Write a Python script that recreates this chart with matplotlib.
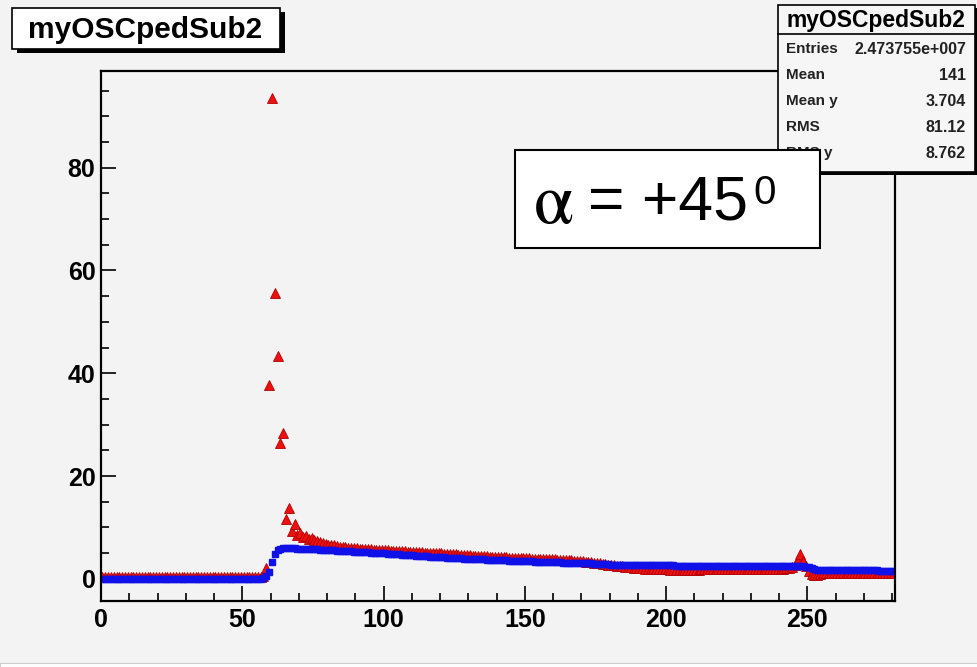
import numpy as np
import matplotlib.pyplot as plt
from matplotlib.patches import Rectangle
from matplotlib.ticker import MultipleLocator

plt.rcParams['font.family'] = ['Liberation Sans', 'DejaVu Sans']
plt.rcParams['mathtext.fontset'] = 'stix'

W, H = 978, 667
BG = '#f3f3f3'

# bin centres of the 281 channel histogram
channels = np.arange(281) + 0.5

# red triangles (one value per channel)
red_vals = [
    0.3, 0.3, 0.3, 0.3, 0.3, 0.3, 0.3, 0.3, 0.3, 0.3,
    0.3, 0.3, 0.3, 0.3, 0.3, 0.3, 0.3, 0.3, 0.3, 0.3,
    0.3, 0.3, 0.3, 0.3, 0.3, 0.3, 0.3, 0.3, 0.3, 0.3,
    0.3, 0.3, 0.3, 0.3, 0.3, 0.3, 0.3, 0.3, 0.3, 0.3,
    0.3, 0.3, 0.3, 0.3, 0.3, 0.3, 0.3, 0.3, 0.3, 0.3,
    0.3, 0.3, 0.3, 0.3, 0.3, 0.3, 0.3, 0.6, 2.1, 37.7,
    93.6, 55.6, 43.4, 26.5, 28.4, 11.7, 13.8, 9.4, 10.7, 8.6,
    8.9, 8.2, 8.4, 7.8, 7.9, 7.5, 7.3, 7.1, 6.9, 6.8,
    6.6, 6.6, 6.5, 6.4, 6.3, 6.3, 6.2, 6.1, 6.1, 6.0,
    6.0, 5.9, 5.9, 5.8, 5.8, 5.8, 5.7, 5.7, 5.7, 5.6,
    5.6, 5.6, 5.5, 5.5, 5.5, 5.4, 5.4, 5.4, 5.3, 5.3,
    5.3, 5.2, 5.2, 5.2, 5.1, 5.1, 5.1, 5.0, 5.0, 5.0,
    5.0, 4.9, 4.9, 4.8, 4.8, 4.8, 4.7, 4.7, 4.6, 4.6,
    4.6, 4.5, 4.5, 4.5, 4.4, 4.4, 4.4, 4.3, 4.3, 4.3,
    4.3, 4.2, 4.2, 4.2, 4.1, 4.1, 4.1, 4.0, 4.0, 4.0,
    4.0, 4.0, 3.9, 3.9, 3.9, 3.9, 3.8, 3.8, 3.8, 3.8,
    3.8, 3.7, 3.7, 3.7, 3.6, 3.6, 3.6, 3.5, 3.5, 3.4,
    3.4, 3.3, 3.3, 3.2, 3.1, 3.1, 3.0, 2.9, 2.9, 2.8,
    2.8, 2.7, 2.6, 2.6, 2.5, 2.4, 2.4, 2.3, 2.2, 2.2,
    2.1, 2.1, 2.0, 2.0, 2.0, 1.9, 1.9, 1.9, 1.9, 1.9,
    1.9, 1.8, 1.8, 1.8, 1.8, 1.7, 1.7, 1.7, 1.8, 1.8,
    1.8, 1.8, 1.9, 1.9, 1.9, 1.9, 1.9, 1.9, 1.9, 1.9,
    1.9, 1.9, 1.9, 2.0, 2.0, 2.0, 2.0, 2.0, 2.0, 2.0,
    2.0, 2.0, 2.0, 2.0, 2.0, 2.0, 2.0, 2.0, 2.0, 2.0,
    2.0, 2.0, 2.1, 2.2, 2.4, 2.8, 3.6, 4.9, 3.4, 2.5,
    1.6, 1.0, 0.8, 0.8, 1.0, 1.1, 1.2, 1.2, 1.2, 1.2,
    1.2, 1.2, 1.2, 1.2, 1.2, 1.2, 1.2, 1.2, 1.2, 1.2,
    1.2, 1.2, 1.2, 1.2, 1.2, 1.2, 1.2, 1.2, 1.2, 1.2, 1.2,
]

# blue squares (one value per channel)
blue_vals = [
    0.0, 0.0, 0.0, 0.0, 0.0, 0.0, 0.0, 0.0, 0.0, 0.0,
    0.0, 0.0, 0.0, 0.0, 0.0, 0.0, 0.0, 0.0, 0.0, 0.0,
    0.0, 0.0, 0.0, 0.0, 0.0, 0.0, 0.0, 0.0, 0.0, 0.0,
    0.0, 0.0, 0.0, 0.0, 0.0, 0.0, 0.0, 0.0, 0.0, 0.0,
    0.0, 0.0, 0.0, 0.0, 0.0, 0.0, 0.0, 0.0, 0.0, 0.0,
    0.0, 0.0, 0.0, 0.0, 0.0, 0.0, 0.0, 0.2, 0.5, 1.4,
    3.3, 4.8, 5.6, 5.9, 6.0, 6.0, 6.0, 6.0, 6.0, 5.9,
    5.9, 5.9, 5.9, 5.9, 5.8, 5.8, 5.8, 5.7, 5.7, 5.7,
    5.6, 5.6, 5.6, 5.5, 5.5, 5.5, 5.4, 5.4, 5.4, 5.3,
    5.3, 5.3, 5.2, 5.2, 5.2, 5.1, 5.1, 5.1, 5.0, 5.0,
    5.0, 4.9, 4.9, 4.9, 4.8, 4.8, 4.7, 4.7, 4.7, 4.6,
    4.6, 4.5, 4.5, 4.5, 4.4, 4.4, 4.3, 4.3, 4.3, 4.2,
    4.2, 4.2, 4.1, 4.1, 4.1, 4.0, 4.0, 4.0, 3.9, 3.9,
    3.9, 3.9, 3.8, 3.8, 3.8, 3.8, 3.7, 3.7, 3.7, 3.7,
    3.6, 3.6, 3.6, 3.6, 3.5, 3.5, 3.5, 3.5, 3.4, 3.4,
    3.4, 3.4, 3.4, 3.3, 3.3, 3.3, 3.3, 3.3, 3.2, 3.2,
    3.2, 3.2, 3.2, 3.1, 3.1, 3.1, 3.1, 3.1, 3.0, 3.0,
    3.0, 3.0, 3.0, 3.0, 2.9, 2.9, 2.9, 2.9, 2.9, 2.9,
    2.8, 2.8, 2.8, 2.8, 2.8, 2.8, 2.8, 2.7, 2.7, 2.7,
    2.7, 2.7, 2.7, 2.7, 2.7, 2.7, 2.7, 2.7, 2.7, 2.7,
    2.7, 2.7, 2.7, 2.6, 2.6, 2.6, 2.6, 2.6, 2.6, 2.6,
    2.6, 2.6, 2.6, 2.6, 2.6, 2.6, 2.6, 2.6, 2.6, 2.6,
    2.6, 2.6, 2.6, 2.6, 2.6, 2.5, 2.5, 2.5, 2.5, 2.5,
    2.5, 2.5, 2.5, 2.5, 2.5, 2.5, 2.5, 2.5, 2.5, 2.5,
    2.5, 2.5, 2.5, 2.5, 2.5, 2.5, 2.5, 2.5, 2.5, 2.4,
    2.3, 2.1, 1.9, 1.8, 1.7, 1.7, 1.7, 1.7, 1.7, 1.7,
    1.7, 1.7, 1.7, 1.7, 1.7, 1.7, 1.7, 1.7, 1.7, 1.7,
    1.7, 1.7, 1.7, 1.7, 1.7, 1.6, 1.6, 1.6, 1.6, 1.6, 1.6,
]

hist_name = 'myOSCpedSub2'
stat_labels = ['Entries', 'Mean', 'Mean y', 'RMS', 'RMS y']
stat_values = ['2.473755e+007', '141', '3.704', '81.12', '8.762']


def box(x1, y1, x2, y2):
    # pixel box (top-left origin) -> figure fraction rectangle args
    return (x1 / W, 1 - y2 / H), (x2 - x1) / W, (y2 - y1) / H


fig = plt.figure(figsize=(W / 100, H / 100), dpi=100, facecolor=BG)
ax = fig.add_axes([101 / W, 1 - 601 / H, (895 - 101) / W, (601 - 71) / H])
ax.set_facecolor(BG)

ax.plot(channels, red_vals, linestyle='none', marker='^', markersize=7.5,
        markerfacecolor='#ee1010', markeredgecolor='#b00000', markeredgewidth=0.6)
ax.plot(channels, blue_vals, linestyle='none', marker='s', markersize=3.8,
        markerfacecolor='#1010e8', markeredgecolor='#1010e8')

ax.set_xlim(0, 281)
ax.set_ylim(-4.3, 98.8)
ax.xaxis.set_major_locator(MultipleLocator(50))
ax.xaxis.set_minor_locator(MultipleLocator(10))
ax.yaxis.set_major_locator(MultipleLocator(20))
ax.yaxis.set_minor_locator(MultipleLocator(5))
ax.tick_params(which='both', direction='in', width=1.2, color='black')
ax.tick_params(which='major', length=11)
ax.tick_params(which='minor', length=6)
ax.tick_params(axis='x', pad=5)
ax.tick_params(axis='y', pad=4)
for lab in ax.get_xticklabels() + ax.get_yticklabels():
    lab.set_fontsize(18)
    lab.set_fontweight('bold')
for s in ax.spines.values():
    s.set_linewidth(1.6)

# title box with shadow
(x0, y0), w, h = box(17, 12, 285, 53)
fig.add_artist(Rectangle((x0, y0), w, h, transform=fig.transFigure,
                         facecolor='black', edgecolor='none', zorder=5))
(x0, y0), w, h = box(12, 8, 280, 49)
fig.add_artist(Rectangle((x0, y0), w, h, transform=fig.transFigure,
                         facecolor='white', edgecolor='black', linewidth=1.2, zorder=6))
fig.text(145 / W, 1 - 30 / H, hist_name, ha='center', va='center',
         fontsize=21.5, fontweight='bold', zorder=7)

# statistics box with shadow
(x0, y0), w, h = box(781, 8, 978, 175)
fig.add_artist(Rectangle((x0, y0), w, h, transform=fig.transFigure,
                         facecolor='black', edgecolor='none', zorder=5))
(x0, y0), w, h = box(778, 5, 975, 172)
fig.add_artist(Rectangle((x0, y0), w, h, transform=fig.transFigure,
                         facecolor='#f6f6f6', edgecolor='black', linewidth=1.2, zorder=6))
fig.add_artist(plt.Line2D([778 / W, 975 / W], [1 - 34 / H, 1 - 34 / H],
                          transform=fig.transFigure, color='black', linewidth=1.2, zorder=7))
fig.text(876 / W, 1 - 20 / H, hist_name, ha='center', va='center',
         fontsize=16.5, fontweight='bold', zorder=7)
row_y = [49, 75, 101, 127, 153]
for lab, val, yy in zip(stat_labels, stat_values, row_y):
    fig.text(786 / W, 1 - yy / H, lab, ha='left', va='center',
             fontsize=11, fontweight='bold', color='#222222', zorder=7)
    fig.text(966 / W, 1 - yy / H, val, ha='right', va='center',
             fontsize=11.5, fontweight='bold', color='#222222', zorder=7)

# angle label box
(x0, y0), w, h = box(515, 150, 820, 248)
fig.add_artist(Rectangle((x0, y0), w, h, transform=fig.transFigure,
                         facecolor='white', edgecolor='black', linewidth=1.5, zorder=10))
fig.text(533 / W, 1 - 204 / H, r'$\mathrm{\alpha}$', ha='left', va='center',
         fontsize=52, zorder=11)
fig.text(588 / W, 1 - 203 / H, '= +45', ha='left', va='center',
         fontsize=45, zorder=11)
fig.text(753 / W, 1 - 193 / H, '0', ha='left', va='center',
         fontsize=29, zorder=11)

# light strip along the bottom edge of the slide crop
(x0, y0), w, h = box(0, 663, 978, 667)
fig.add_artist(Rectangle((x0, y0), w, h, transform=fig.transFigure,
                         facecolor='white', edgecolor='#cccccc', linewidth=0.8, zorder=4))

fig.savefig('out.png', dpi=100, facecolor=BG)
